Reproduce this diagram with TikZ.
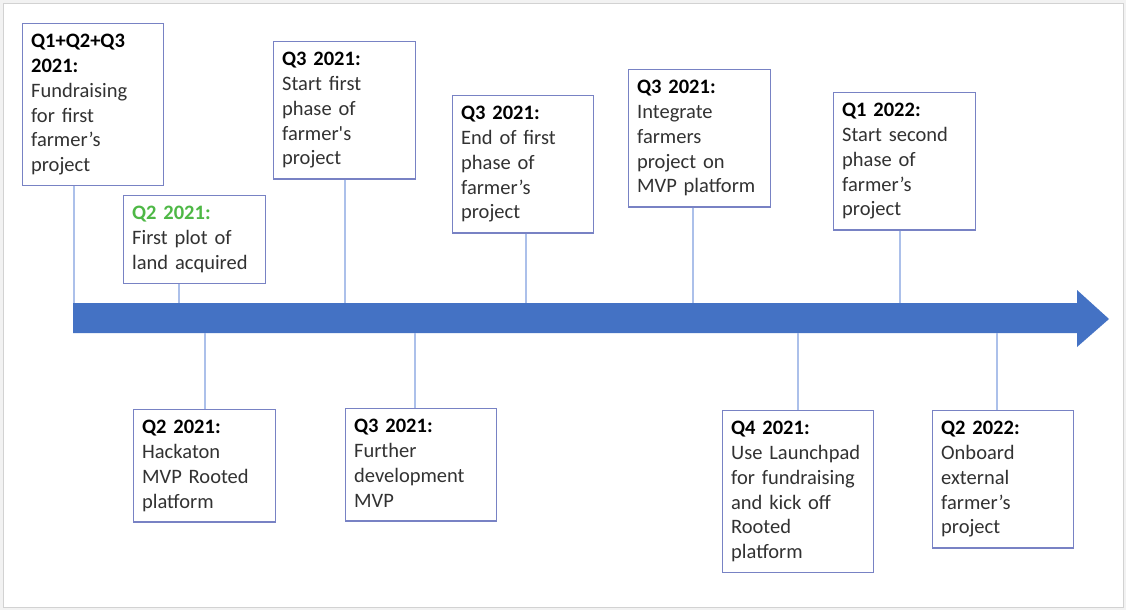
\documentclass[tikz,border=0pt]{standalone}
\usepackage{fontspec}
\setmainfont{Carlito}
\usepackage{tikz}
\usetikzlibrary{positioning}

\definecolor{arrowblue}{RGB}{68,114,196}
\definecolor{boxblue}{RGB}{120,130,196}
\definecolor{tickblue}{RGB}{172,192,234}
\definecolor{headgreen}{RGB}{78,184,70}
\definecolor{framegray}{RGB}{242,242,242}
\definecolor{bodygray}{RGB}{50,50,50}

\tikzset{
  event/.style={draw=boxblue, line width=1.3pt, fill=white, anchor=north west,
    align=left, inner xsep=8.5pt, inner ysep=6.6pt, text width=#1,
    text=bodygray, font=\fontsize{20.5}{24.8}\selectfont,
    execute at begin node=\strut, execute at end node=\strut},
  event/.default=125pt,
  tick/.style={draw=tickblue, line width=1.5pt},
}
\newcommand{\evhead}[1]{\textbf{\color{black}#1}}

\begin{document}
\begin{tikzpicture}[x=1pt,y=-1pt]
% Marco de la diapositiva
\fill[framegray] (0,0) rectangle (1126,610);
\filldraw[fill=white, draw=gray!35, line width=0.8pt] (3,3) rectangle (1123,607);
\useasboundingbox (0,0) rectangle (1126,610);

% Flecha de la línea de tiempo
\fill[arrowblue] (73,303) -- (1077,303) -- (1077,290) -- (1109,319) --
  (1077,347) -- (1077,333) -- (73,333) -- cycle;

% Hitos encima de la flecha
\node[event=124pt] (b1) at (22,23)  {\evhead{Q1+Q2+Q3}\\\evhead{2021:}\\Fundraising\\for first\\farmer’s\\project};
\node[event]       (b2) at (123,195) {\textbf{\color{headgreen}Q2 2021:}\\First plot of\\land acquired};
\node[event]       (b3) at (273,41)  {\evhead{Q3 2021:}\\Start first\\phase of\\farmer\textquotesingle s\\project};
\node[event=124pt] (b4) at (452,95)  {\evhead{Q3 2021:}\\End of first\\phase of\\farmer’s\\project};
\node[event]       (b5) at (628,69)  {\evhead{Q3 2021:}\\Integrate\\farmers\\project on\\MVP platform};
\node[event]       (b6) at (833,92)  {\evhead{Q1 2022:}\\Start second\\phase of\\farmer’s\\project};

% Hitos debajo de la flecha
\node[event]       (b7)  at (133,409) {\evhead{Q2 2021:}\\Hackaton\\MVP Rooted\\platform};
\node[event=134pt] (b8)  at (345,408) {\evhead{Q3 2021:}\\Further\\development\\MVP};
\node[event=134pt] (b9)  at (722,410) {\evhead{Q4 2021:}\\Use Launchpad\\for fundraising\\and kick off\\Rooted\\platform};
\node[event=124pt] (b10) at (932,410) {\evhead{Q2 2022:}\\Onboard\\external\\farmer’s\\project};

% Conectores hacia la flecha
\foreach \b/\x in {b1/74, b2/179, b3/345, b4/526, b5/693, b6/900} {
  \coordinate (t\b) at (\x,303);
  \draw[tick] (\b.south -| t\b) -- (t\b);
}
\foreach \b/\x in {b7/205, b8/415, b9/798, b10/997} {
  \coordinate (t\b) at (\x,333);
  \draw[tick] (t\b) -- (\b.north -| t\b);
}
\end{tikzpicture}
\end{document}
